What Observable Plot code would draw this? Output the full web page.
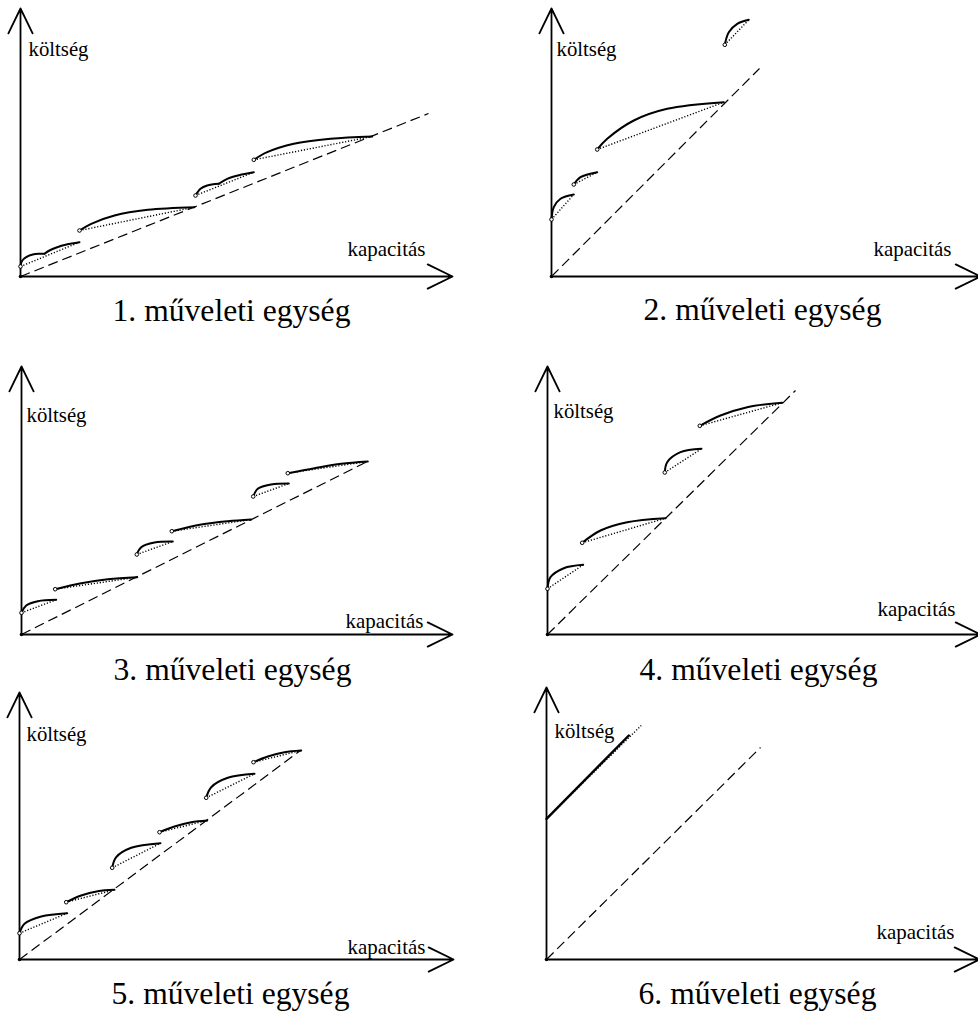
<!DOCTYPE html>
<html><head><meta charset="utf-8">
<script src="https://cdn.jsdelivr.net/npm/d3@7"></script>
<script src="https://cdn.jsdelivr.net/npm/@observablehq/plot@0.6"></script>
<style>
html,body{margin:0;padding:0;background:#fff;overflow:hidden}
#root{position:relative;width:978px;height:1014px;overflow:hidden}
#root > svg{position:absolute;overflow:visible}
</style></head><body><div id="root"></div>
<script>
// ---- data (capacity, cost) in arbitrary chart units ----
const titles = ["1. műveleti egység", "2. műveleti egység", "3. műveleti egység",
                "4. műveleti egység", "5. műveleti egység", "6. műveleti egység"];
const yLabel = "költség";
const xLabel = "kapacitás";

// axis extents per panel
const capacityMax = [432, 429, 431, 433, 434, 433];
const costMax = [268, 268, 268, 268, 267, 272];
// end point of the dashed (linear) reference cost line
const refEnd = [[408, 163], [208, 208], [348, 174], [248, 244], [281, 209], [214, 212]];

// concave cost curves (solid), each a list of [capacity, cost]
const arcs1 = [
  [[0, 10], [1.3, 15.3], [5.7, 19.3], [12.3, 22], [19, 22.7], [24, 22.7]],
  [[24, 22.7], [29, 26], [36, 29], [46, 32], [59, 34.3]],
  [[59, 46], [70.7, 52.7], [94, 61], [127.3, 66.7], [174, 69.3]],
  [[175, 81], [180, 87.7], [186.7, 91], [198.3, 92.7]],
  [[198.3, 92.7], [206.7, 97.7], [220, 101.7], [233.3, 104.3]],
  [[233.3, 116.7], [246.7, 124.3], [273.3, 132.7], [310, 137.7], [351.7, 140]]
];
const chords1 = [[[0, 10], [59, 34.3]], [[59, 46], [174, 69.3]], [[175, 81], [233.3, 104.3]], [[233.3, 116.7], [351.7, 140]]];

const arcs2 = [
  [[0, 57], [2.3, 69.3], [9, 77.7], [22.3, 82]],
  [[22.3, 92], [29, 99.3], [45.7, 104.3]],
  [[45.7, 127], [55.7, 137.7], [82.3, 156], [115.7, 167.7], [172.3, 174.3]],
  [[173.3, 231.7], [177.3, 244.3], [185.7, 252.7], [197.3, 256.7]]
];
const chords2 = [[[0, 57], [22.3, 82]], [[22.3, 92], [45.7, 104.3]], [[45.7, 127], [172.3, 174.3]], [[173.3, 231.7], [197.3, 256.7]]];

const arcs3 = [
  [[0, 21.7], [4.7, 29], [16.3, 33.3], [34.7, 34.7]],
  [[33.7, 45.3], [59.7, 51.3], [86.3, 55.3], [115.7, 57.3]],
  [[115.3, 80], [119.7, 87.3], [133, 92], [151.3, 93]],
  [[150.3, 103.3], [179.7, 110], [206.3, 113.3], [229.7, 115]],
  [[231.7, 138], [236.3, 145.7], [249.7, 150], [267.3, 151]],
  [[266.3, 161.3], [293, 166.3], [319.7, 170.7], [346.3, 173]]
];
const chords3 = [[[0, 21.7], [34.7, 34.7]], [[33.7, 45.3], [115.7, 57.3]], [[115.3, 80], [151.3, 93]],
                 [[150.3, 103.3], [229.7, 115]], [[231.7, 138], [267.3, 151]], [[266.3, 161.3], [346.3, 173]]];

const arcs4 = [
  [[0, 45.7], [3, 57.3], [16.3, 66.3], [35.7, 69.7]],
  [[34.7, 91.7], [53, 104], [79.7, 112.3], [118, 116.3]],
  [[117.3, 162], [119.7, 172.3], [133, 182.3], [154, 185.7]],
  [[152.3, 208.7], [173, 219], [199.7, 227.3], [234.7, 231.7]]
];
const chords4 = [[[0, 45.7], [35.7, 69.7]], [[34.7, 91.7], [118, 116.3]], [[117.3, 162], [154, 185.7]], [[152.3, 208.7], [234.7, 231.7]]];

const arcs5 = [
  [[0, 26.3], [5, 35.7], [21.7, 43], [47.7, 46.3]],
  [[46.7, 57.3], [61.7, 64], [78.3, 68.3], [95, 69.7]],
  [[92.7, 91.7], [96.7, 102.3], [111.7, 111.7], [141, 116.3]],
  [[140, 127.3], [155, 133], [171.7, 137.3], [187.7, 139]],
  [[186.7, 161.7], [191.7, 172.3], [208.3, 181.7], [235, 185.7]],
  [[234, 197.3], [248.3, 203], [265, 207.3], [281.7, 209]]
];
const chords5 = [[[0, 26.3], [47.7, 46.3]], [[46.7, 57.3], [95, 69.7]], [[92.7, 91.7], [141, 116.3]],
                 [[140, 127.3], [187.7, 139]], [[186.7, 161.7], [235, 185.7]], [[234, 197.3], [281.7, 209]]];

const arcs6 = [[[0, 140.7], [82.3, 224]]];
const chords6 = [[[0, 140.7], [94.7, 234]]];

const allArcs = [arcs1, arcs2, arcs3, arcs4, arcs5, arcs6];
const allChords = [chords1, chords2, chords3, chords4, chords5, chords6];

// ---- layout (page pixel position of each panel's origin) and text offsets ----
const origins = [[20, 276], [551, 276], [21, 634], [547, 634], [19, 959], [546, 959]];
const yLabelOff = [[8, 47], [5, 47], [5, 55], [6, 51], [7, 48], [8, 50]];
const xLabelOff = [[327, -21], [322, -21], [324, -7], [330, -19], [328, -6], [330, -21]];
const titleDy = [44, 43, 45, 45, 44, 44];

// ---- choose an installed serif (Times-like) font ----
const ctx = document.createElement("canvas").getContext("2d");
function width(text, fam, size) { ctx.font = `${size}px ${fam}`; return ctx.measureText(text).width; }
function pickFont(cands) {
  const probe = "költség kapacitás műveleti egység 123";
  const base = width(probe, "monospace", 100);
  for (const f of cands) {
    if (Math.abs(width(probe, `"${f}", monospace`, 100) - base) > 0.5) return f;
  }
  return "serif";
}
const font = pickFont(["Liberation Serif", "Tinos", "Times New Roman", "Nimbus Roman", "Nimbus Roman No9 L", "Noto Serif", "DejaVu Serif"]);
const fam = font === "serif" ? "serif" : `"${font}", serif`;
// fit font sizes to the text widths measured on the reference
const titleSize = 31.5 * 238 / width(titles[0], fam, 31.5);
const xLabelSize = 21 * 78 / width(xLabel, fam, 21);
const yLabelSize = 21 * 60 / width(yLabel, fam, 21);

const root = document.getElementById("root");
const OX = 30, OY = 290, W = 470, H = 360;

for (let i = 0; i < 6; i++) {
  const [ox, oy] = origins[i];
  const xLen = capacityMax[i], yLen = costMax[i];
  const arcRows = allArcs[i].flatMap((pts, k) => pts.map(([x, y]) => ({k, x, y})));
  const chordRows = allChords[i].map(([[x1, y1], [x2, y2]]) => ({x1, y1, x2, y2}));
  const axes = [{x1: 0, y1: 0, x2: xLen, y2: 0}, {x1: 0, y1: 0, x2: 0, y2: yLen}];
  const ref = [{x2: refEnd[i][0], y2: refEnd[i][1]}];
  const plot = Plot.plot({
    width: W, height: H, margin: 0,
    x: {domain: [0, xLen], range: [OX, OX + xLen]},
    y: {domain: [0, yLen], range: [OY, OY - yLen]},
    axis: null,
    style: {background: "transparent", overflow: "visible", color: "black", fontFamily: fam},
    marks: [
      Plot.link(ref, {x1: 0, y1: 0, x2: "x2", y2: "y2", stroke: "black", strokeWidth: 1.2, strokeDasharray: "10,5"}),
      Plot.link(chordRows, {x1: "x1", y1: "y1", x2: "x2", y2: "y2", stroke: "black", strokeWidth: 1.4, strokeDasharray: "1.2,1.8", strokeLinecap: "butt"}),
      Plot.line(arcRows, {x: "x", y: "y", z: "k", curve: "catmull-rom", stroke: "black", strokeWidth: i === 5 ? 2.4 : 2}),
      Plot.arrow(axes, {x1: "x1", y1: "y1", x2: "x2", y2: "y2", stroke: "black", strokeWidth: 1.8, headLength: 23, headAngle: 52}),
      i < 5 ? Plot.dot(chordRows, {x: "x1", y: "y1", r: 1.8, fill: "white", stroke: "black", strokeWidth: 1}) : null,
      Plot.dot([0], {x: 0, y: 0, r: 1.8, fill: "black"}),
      Plot.text([yLabel], {x: 0, y: yLen, dx: yLabelOff[i][0], dy: yLabelOff[i][1], textAnchor: "start", lineAnchor: "bottom", fontSize: yLabelSize, fontFamily: fam, fill: "black"}),
      Plot.text([xLabel], {x: 0, y: 0, dx: xLabelOff[i][0], dy: xLabelOff[i][1], textAnchor: "start", lineAnchor: "bottom", fontSize: xLabelSize, fontFamily: fam, fill: "black"}),
      Plot.text([titles[i]], {x: 0, y: 0, dx: 211, dy: titleDy[i], textAnchor: "middle", lineAnchor: "bottom", fontSize: titleSize, fontFamily: fam, fill: "black"})
    ]
  });
  plot.style.left = (ox - OX) + "px";
  plot.style.top = (oy - OY) + "px";
  root.appendChild(plot);
}
</script></body></html>
